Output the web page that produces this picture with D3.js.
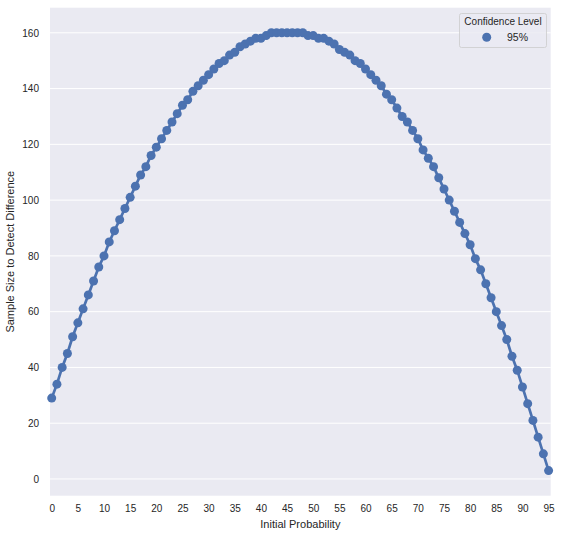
<!DOCTYPE html>
<html>
<head>
<meta charset="utf-8">
<script src="https://cdn.jsdelivr.net/npm/d3@7"></script>
<style>
  body { margin: 0; background: #fff; }
  svg text { font-family: "Liberation Sans", Arial, sans-serif; fill: #262626; }
</style>
</head>
<body>
<div id="chart"></div>
<script>
// initial probability (%) categories and the sample size
const probabilities = d3.range(0, 96);
const sampleSizes = [
  29, 34, 40, 45, 51, 56, 61, 66, 71, 76,
  80, 85, 89, 93, 97, 101, 105, 109, 112, 116,
  119, 122, 125, 128, 131, 134, 136, 139, 141, 143,
  145, 147, 149, 150, 152, 153, 155, 156, 157, 158,
  158, 159, 160, 160, 160, 160, 160, 160, 160, 159,
  159, 158, 158, 157, 156, 154, 153, 152, 150, 149,
  147, 145, 143, 141, 138, 136, 133, 130, 128, 125,
  122, 118, 115, 112, 108, 104, 100, 96, 92, 88,
  84, 79, 75, 70, 65, 60, 55, 50, 44, 39,
  33, 27, 21, 15, 9, 3
];
const xTickLabels = d3.range(0, 96, 5);
const yTickLabels = [0, 20, 40, 60, 80, 100, 120, 140, 160];
const legendTitle = "Confidence Level";
const seriesName = "95%";

const width = 562, height = 537;
const plot = { left: 50, right: 550.7, top: 7.7, bottom: 495.7 };
const blue = "#4c72b0";

const svg = d3.select("#chart").append("svg")
  .attr("width", width)
  .attr("height", height);

const x = d3.scalePoint()
  .domain(probabilities)
  .range([51.7, 548.6]);

const y = d3.scaleLinear()
  .domain([-6, 169])
  .range([plot.bottom, plot.top]);

// plot background
svg.append("rect")
  .attr("x", plot.left).attr("y", plot.top)
  .attr("width", plot.right - plot.left).attr("height", plot.bottom - plot.top)
  .attr("fill", "#eaeaf2");

// horizontal grid
svg.append("g")
  .selectAll("line")
  .data(yTickLabels)
  .enter()
  .append("line")
  .attr("x1", plot.left).attr("x2", plot.right)
  .attr("y1", d => y(d)).attr("y2", d => y(d))
  .attr("stroke", "#fff")
  .attr("stroke-width", 1);

// axes, no tick lines or domain like seaborn darkgrid
const xAxis = svg.append("g")
  .attr("transform", `translate(0,${plot.bottom})`)
  .call(d3.axisBottom(x).tickValues(xTickLabels).tickSize(0).tickPadding(9));
const yAxis = svg.append("g")
  .attr("transform", `translate(${plot.left},0)`)
  .call(d3.axisLeft(y).tickValues(yTickLabels).tickSize(0).tickPadding(11));
[xAxis, yAxis].forEach(g => {
  g.select(".domain").remove();
  g.selectAll("text")
    .attr("font-size", 10)
    .attr("font-family", "Liberation Sans, Arial, sans-serif")
    .attr("fill", "#262626");
});

// axis titles
svg.append("text")
  .attr("x", (plot.left + plot.right) / 2)
  .attr("y", 528)
  .attr("text-anchor", "middle")
  .attr("font-size", 11)
  .text("Initial Probability");

svg.append("text")
  .attr("transform", `translate(14,${(plot.top + plot.bottom) / 2}) rotate(-90)`)
  .attr("text-anchor", "middle")
  .attr("font-size", 11)
  .text("Sample Size to Detect Difference");

// line and points
const line = d3.line()
  .x((d, i) => x(probabilities[i]))
  .y(d => y(d));

svg.append("path")
  .datum(sampleSizes)
  .attr("d", line)
  .attr("fill", "none")
  .attr("stroke", blue)
  .attr("stroke-width", 2.7);

svg.append("g")
  .selectAll("circle")
  .data(sampleSizes)
  .enter()
  .append("circle")
  .attr("cx", (d, i) => x(probabilities[i]))
  .attr("cy", d => y(d))
  .attr("r", 4.5)
  .attr("fill", blue);

// legend
const legend = svg.append("g");
legend.append("rect")
  .attr("x", 459.5).attr("y", 13.5)
  .attr("width", 87).attr("height", 34)
  .attr("rx", 2)
  .attr("fill", "#eaeaf2")
  .attr("fill-opacity", 0.8)
  .attr("stroke", "#cccccc")
  .attr("stroke-width", 0.8);
legend.append("text")
  .attr("x", 503)
  .attr("y", 25)
  .attr("text-anchor", "middle")
  .attr("font-size", 10)
  .text(legendTitle);
legend.append("circle")
  .attr("cx", 486.7).attr("cy", 37.3)
  .attr("r", 4.5)
  .attr("fill", blue);
legend.append("text")
  .attr("x", 507)
  .attr("y", 41)
  .attr("font-size", 10.5)
  .text(seriesName);
</script>
</body>
</html>
